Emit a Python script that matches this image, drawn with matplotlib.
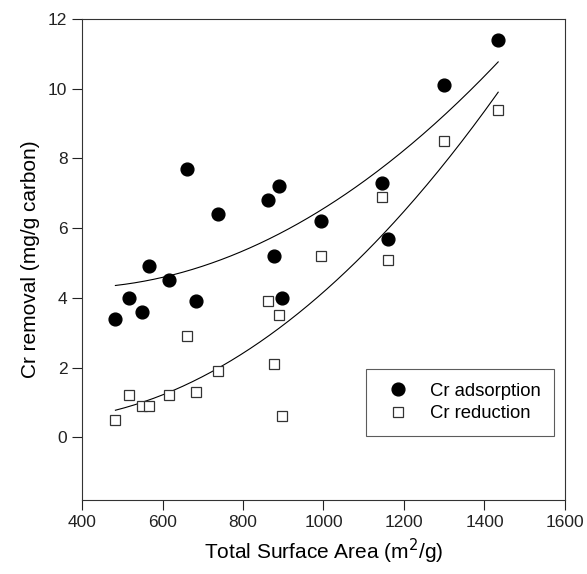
import numpy as np
import matplotlib
matplotlib.use("Agg")
import matplotlib.pyplot as plt

plt.rcParams['font.family'] = ['Liberation Sans', 'DejaVu Sans']

# Total surface area (m2/g) for each carbon
surface_area = [483, 517, 548, 566, 616, 662, 683, 738, 861, 876, 890, 896,
                993, 1146, 1161, 1299, 1434]
# Cr removal (mg/g carbon)
cr_adsorption = [3.4, 4.0, 3.6, 4.9, 4.5, 7.7, 3.9, 6.4, 6.8, 5.2, 7.2, 4.0,
                 6.2, 7.3, 5.7, 10.1, 11.4]
cr_reduction = [0.5, 1.2, 0.9, 0.9, 1.2, 2.9, 1.3, 1.9, 3.9, 2.1, 3.5, 0.6,
                5.2, 6.9, 5.1, 8.5, 9.4]

x_ticks = [400, 600, 800, 1000, 1200, 1400, 1600]
y_ticks = [0, 2, 4, 6, 8, 10, 12]

fig = plt.figure(figsize=(5.87, 5.74), dpi=100)
ax = fig.add_axes([0.1397, 0.1289, 0.8228, 0.838])

x = np.array(surface_area, dtype=float)
xs = np.linspace(x.min(), x.max(), 200)
for ys in (cr_adsorption, cr_reduction):
    coef = np.polyfit(x, np.array(ys), 2)
    ax.plot(xs, np.polyval(coef, xs), color='black', lw=0.8, zorder=2)

ax.plot(surface_area, cr_adsorption, 'o', ms=9.2, mfc='black', mec='black',
        ls='none', label='Cr adsorption', zorder=3)
ax.plot(surface_area, cr_reduction, 's', ms=7.6, mfc='white', mec='#333333',
        mew=0.9, ls='none', label='Cr reduction', zorder=3)

ax.set_xlim(400, 1600)
ax.set_ylim(-1.8, 12)
ax.set_xticks(x_ticks)
ax.set_yticks(y_ticks)
ax.tick_params(direction='out', length=7, width=0.8, labelsize=12.5,
               colors='#222222', top=False, right=False)
for s in ax.spines.values():
    s.set_linewidth(0.8)
    s.set_color('#333333')

ax.set_xlabel('Total Surface Area (m$^2$/g)', fontsize=15, labelpad=5)
ax.set_ylabel('Cr removal (mg/g carbon)', fontsize=15, labelpad=6)

leg = ax.legend(loc='lower right', bbox_to_anchor=(0.978, 0.133), fontsize=13.3,
                frameon=True, fancybox=False, edgecolor='#333333',
                handletextpad=0.7, borderpad=0.75, labelspacing=0.3,
                borderaxespad=0)
leg.get_frame().set_linewidth(0.8)

fig.savefig('out.png', dpi=100)
